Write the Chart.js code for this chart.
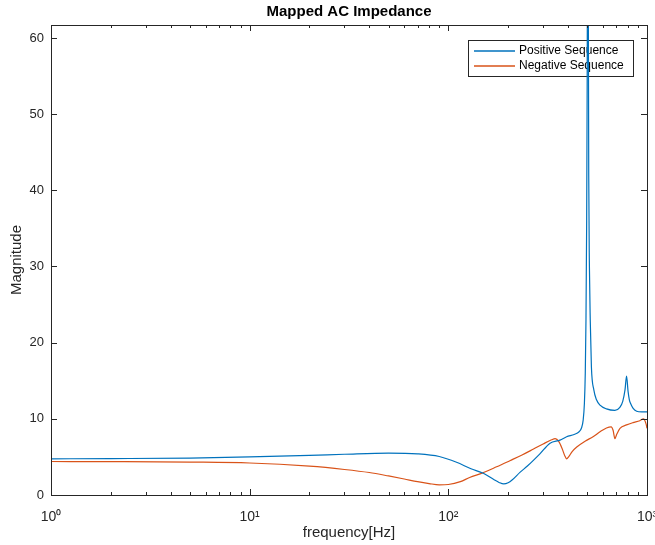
<!DOCTYPE html>
<html>
<head>
<meta charset="utf-8">
<script src="https://cdn.jsdelivr.net/npm/chart.js@4/dist/chart.umd.min.js"></script>
<style>
  html, body { margin: 0; padding: 0; background: #fff; }
  canvas { display: block; }
</style>
</head>
<body>
<canvas id="impedanceChart" width="655" height="545"></canvas>
<script>
// frequency points (Hz) and magnitudes
const posFreq = [1, 2, 5, 10, 20, 30, 50, 70, 90, 110, 130, 150, 170, 180, 190, 200, 210, 230, 250, 289, 325, 365, 394, 430, 455, 468, 477, 484, 489, 493, 497, 500, 502, 504, 506, 509, 513, 518, 525, 540, 557, 580, 625, 689, 730, 755, 775, 789, 803, 815, 827, 850, 887, 940, 1000];
const posMag  = [4.75, 4.78, 4.85, 5.0, 5.2, 5.35, 5.5, 5.4, 5.05, 4.3, 3.45, 2.85, 2.0, 1.65, 1.45, 1.6, 2.0, 3.0, 3.8, 5.4, 6.8, 7.2, 7.65, 7.95, 8.3, 8.8, 9.8, 12, 16, 23, 36, 55, 75, 95, 72, 42, 30, 23, 16.8, 13.8, 12.5, 11.8, 11.3, 11.1, 11.5, 12.3, 13.8, 15.6, 13.6, 12.5, 12.0, 11.4, 11.0, 10.9, 10.9];

const negFreq = [1, 2, 5, 10, 20, 30, 40, 50, 60, 70, 80, 90, 100, 115, 128, 149, 175, 204, 235, 267, 300, 331, 345, 360, 375, 385, 394, 403, 420, 443, 490, 535, 580, 625, 660, 675, 689, 705, 731, 789, 850, 920, 960, 990, 1000];
const negMag  = [4.4, 4.38, 4.32, 4.2, 3.78, 3.35, 2.95, 2.5, 2.1, 1.75, 1.5, 1.33, 1.38, 1.75, 2.3, 2.9, 3.7, 4.5, 5.25, 6.0, 6.7, 7.25, 7.4, 7.0, 6.0, 5.2, 4.75, 5.0, 5.7, 6.3, 7.1, 7.65, 8.3, 8.8, 8.95, 8.5, 7.4, 8.0, 8.75, 9.2, 9.5, 9.75, 10.0, 9.3, 8.75];

const seriesNames = ["Positive Sequence", "Negative Sequence"];
const xTickValues = [1, 10, 100, 1000];
const xTickLabels = ["10\u2070", "10\u00B9", "10\u00B2", "10\u00B3"];
const yTickValues = [0, 10, 20, 30, 40, 50, 60];

const axisColor = "#262626";
Chart.defaults.font.family = '"Liberation Sans", Arial, Helvetica, sans-serif';
Chart.defaults.color = axisColor;

// box around the axes with inward ticks (MATLAB style), plus the legend
const matlabAxes = {
  id: "matlabAxes",
  beforeDatasetsDraw(chart) {
    const { ctx, chartArea: a } = chart;
    // legend box
    const lx = a.right - 179, ly = a.top + 15, lw = 165, lh = 36;
    ctx.save();
    ctx.strokeStyle = axisColor;
    ctx.lineWidth = 1;
    ctx.strokeRect(Math.round(lx) + 0.5, Math.round(ly) + 0.5, lw, lh);
    ctx.font = '12px "Liberation Sans", Arial, sans-serif';
    ctx.textBaseline = "middle";
    chart.data.datasets.forEach((ds, i) => {
      const rowY = ly + 11 + i * 15;
      ctx.strokeStyle = ds.borderColor;
      ctx.lineWidth = 1.3;
      ctx.beginPath();
      ctx.moveTo(lx + 6, rowY);
      ctx.lineTo(lx + 47, rowY);
      ctx.stroke();
      ctx.fillStyle = "#000";
      ctx.fillText(ds.label, lx + 51, rowY);
    });
    ctx.restore();
  },
  afterDraw(chart) {
    const { ctx, chartArea: a, scales } = chart;
    ctx.save();
    ctx.strokeStyle = axisColor;
    ctx.lineWidth = 1;
    ctx.beginPath();
    // x ticks, major and minor, on bottom and top
    for (let dec = 1; dec < 1000; dec *= 10) {
      for (let m = 1; m <= 10; m++) {
        const v = dec * m;
        if (m === 10 && v !== 1000) continue;
        const px = Math.round(scales.x.getPixelForValue(v)) + 0.5;
        const len = (m === 1 || m === 10) ? 6 : 3;
        ctx.moveTo(px, a.bottom); ctx.lineTo(px, a.bottom - len);
        ctx.moveTo(px, a.top); ctx.lineTo(px, a.top + len);
      }
    }
    // y ticks on left and right
    yTickValues.forEach(v => {
      const py = Math.round(scales.y.getPixelForValue(v)) + 0.5;
      ctx.moveTo(a.left, py); ctx.lineTo(a.left + 6, py);
      ctx.moveTo(a.right, py); ctx.lineTo(a.right - 6, py);
    });
    ctx.stroke();
    ctx.strokeRect(Math.round(a.left) + 0.5, Math.round(a.top) + 0.5,
                   Math.round(a.right - a.left), Math.round(a.bottom - a.top));
    ctx.restore();
  }
};

const ctx = document.getElementById("impedanceChart").getContext("2d");
new Chart(ctx, {
  type: "line",
  data: {
    datasets: [
      {
        label: seriesNames[0],
        data: posFreq.map((f, i) => ({ x: f, y: posMag[i] })),
        borderColor: "#0072BD",
        borderWidth: 1.2,
        pointRadius: 0,
        cubicInterpolationMode: "monotone",
        fill: false
      },
      {
        label: seriesNames[1],
        data: negFreq.map((f, i) => ({ x: f, y: negMag[i] })),
        borderColor: "#D95319",
        borderWidth: 1.2,
        pointRadius: 0,
        cubicInterpolationMode: "monotone",
        fill: false
      }
    ]
  },
  options: {
    responsive: false,
    animation: false,
    layout: { padding: { left: 0, right: 8, top: 0, bottom: 0 } },
    plugins: {
      legend: { display: false },
      tooltip: { enabled: false },
      title: {
        display: true,
        text: "Mapped AC Impedance",
        fullSize: false,
        color: "#000",
        font: { size: 15, weight: "bold", lineHeight: 1.2 },
        padding: { top: 3, bottom: 4 }
      }
    },
    scales: {
      x: {
        type: "logarithmic",
        min: 1,
        max: 1000,
        afterBuildTicks: scale => { scale.ticks = xTickValues.map(v => ({ value: v })); },
        afterFit: scale => {
          scale.height = 50;
          scale.paddingLeft = 0;
          scale.paddingRight = 0;
        },
        grid: { display: false, drawTicks: false },
        border: { display: false },
        ticks: {
          autoSkip: false,
          maxRotation: 0,
          padding: 14,
          font: { size: 14 },
          callback: v => xTickLabels[xTickValues.indexOf(v)]
        },
        title: {
          display: true,
          text: "frequency[Hz]",
          font: { size: 15, lineHeight: 1.2 },
          padding: { top: 0, bottom: 3 }
        }
      },
      y: {
        type: "linear",
        min: 0,
        max: 61.7,
        afterBuildTicks: scale => { scale.ticks = yTickValues.map(v => ({ value: v })); },
        afterFit: scale => {
          scale.width = 51;
          scale.paddingTop = 0;
          scale.paddingBottom = 0;
        },
        grid: { display: false, drawTicks: false },
        border: { display: false },
        ticks: { padding: 7, font: { size: 13 } },
        title: {
          display: true,
          text: "Magnitude",
          font: { size: 15, lineHeight: 1.2 },
          padding: { top: 8, bottom: 0 }
        }
      }
    }
  },
  plugins: [matlabAxes]
});
</script>
</body>
</html>
